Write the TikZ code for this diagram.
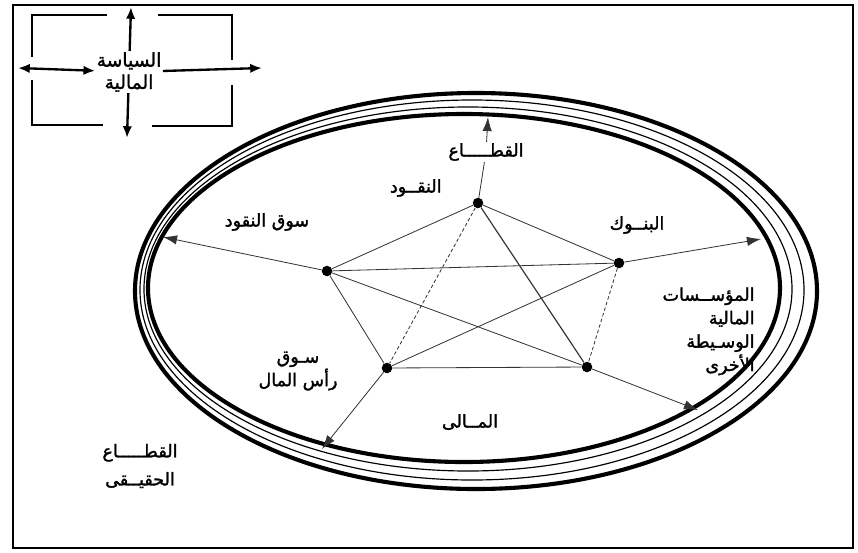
\documentclass[tikz,border=0pt]{standalone}
\usepackage{fontspec}
\newfontfamily\arabicfont[Script=Arabic, FakeBold=1.6]{DejaVu Sans}
\TeXXeTstate=1
\usetikzlibrary{arrows.meta}

\begin{document}
\begin{tikzpicture}[
    x=0.03cm, y=-0.03cm,
    txt/.style={font=\arabicfont\fontsize{15}{20}\selectfont, inner sep=1pt, align=center},
    dot/.style={circle, fill=black, minimum size=9pt, inner sep=0pt},
    link/.style={line width=0.7pt, black!80},
    flow/.style={-{Latex[length=12pt,width=8pt]}, line width=0.7pt, black!80},
    bold/.style={-{Latex[length=10pt,width=8pt]}, line width=2pt},
    ring/.style={line width=3.5pt},
    thinring/.style={line width=1pt}
]

\useasboundingbox (0,0) rectangle (858,552);
\draw[line width=1.5pt] (13,5) rectangle (853,548);

% rings
\draw[ring]     (476,291) ellipse [x radius=10.23cm, y radius=5.94cm];
\draw[thinring] (472,290) ellipse [x radius=9.96cm, y radius=5.70cm];
\draw[thinring] (468,289) ellipse [x radius=9.72cm, y radius=5.46cm];
\draw[ring]     (464,288) ellipse [x radius=9.48cm, y radius=5.22cm];

% fiscal policy box
\draw[line width=1.5pt] (107,15) -- (32,15) -- (32,57);
\draw[line width=1.5pt] (158,15) -- (232,15) -- (232,60);
\draw[line width=1.5pt] (32,80) -- (32,125) -- (103,125);
\draw[line width=1.5pt] (232,85) -- (232,126) -- (152,126);

\node (lpolicy) [txt, font=\arabicfont\fontsize{16}{19}\selectfont] at (129,72) {\beginR السياسة\endR\\\beginR المالية\endR};

\coordinate (pN) at (131,7);
\coordinate (pS) at (127,138);
\coordinate (pW) at (18,68);
\coordinate (pE) at (262,68);

\draw[bold] (lpolicy) -- (pN);
\draw[bold] (lpolicy) -- (pS);
\draw[bold, {Latex[length=10pt,width=8pt]}-{Latex[length=10pt,width=8pt]}] (pW) -- (lpolicy);
\draw[bold] (lpolicy) -- (pE);

% sectors
\node (nmoney)   [dot] at (478,203) {};
\node (nbanks)   [dot] at (619,263) {};
\node (ninter)   [dot] at (587,367) {};
\node (ncapital) [dot] at (387,368) {};
\node (nmarket)  [dot] at (327,271) {};

\node (lsector)  [txt] at (486,152) {\beginR القطـــــاع\endR};
\node (lmoney)   [txt, anchor=east] at (443,188) {\beginR النقــود\endR};
\node (lmarket)  [txt] at (267,222) {\beginR سوق النقود\endR};
\node (lbanks)   [txt] at (637,225) {\beginR البنــوك\endR};
\node (linter)   [txt, align=right, anchor=north east] at (756,286) {\beginR المؤســسات\endR\\\beginR المالية\endR\\\beginR الوسـيطة\endR\\\beginR الأخرى\endR};
\node (lcapital) [txt] at (298,371) {\beginR سـوق\endR\\\beginR رأس المال\endR};
\node (lfin)     [txt] at (470,422) {\beginR المــالى\endR};
\node (lreal)    [txt, font=\arabicfont\fontsize{15}{24}\selectfont] at (140,466) {\beginR القطـــــاع\endR\\\beginR الحقيــقى\endR};

\coordinate (tsector)  at (488,117);
\coordinate (tbanks)   at (761,239);
\coordinate (tinter)   at (698,410);
\coordinate (tcapital) at (322,449);
\coordinate (tmarket)  at (163,237);

% links
\draw[link] (nmoney) -- (nbanks);
\draw[link] (nmoney) -- (nmarket);
\draw[link, line width=1pt] (nmoney) -- (ninter);
\draw[link, densely dashed] (nmoney) -- (ncapital);
\draw[link, densely dashed] (nbanks) -- (ninter);
\draw[link] (nbanks) -- (nmarket);
\draw[link] (nbanks) -- (ncapital);
\draw[link] (ninter) -- (ncapital);
\draw[link] (ninter) -- (nmarket);
\draw[link] (ncapital) -- (nmarket);

% outward arrows
\draw[link] (nmoney) -- (lsector);
\draw[flow] (lsector) -- (tsector);
\draw[flow] (nbanks) -- (tbanks);
\draw[flow] (ninter) -- (tinter);
\draw[flow] (ncapital) -- (tcapital);
\draw[flow] (nmarket) -- (tmarket);

\end{tikzpicture}
\end{document}
